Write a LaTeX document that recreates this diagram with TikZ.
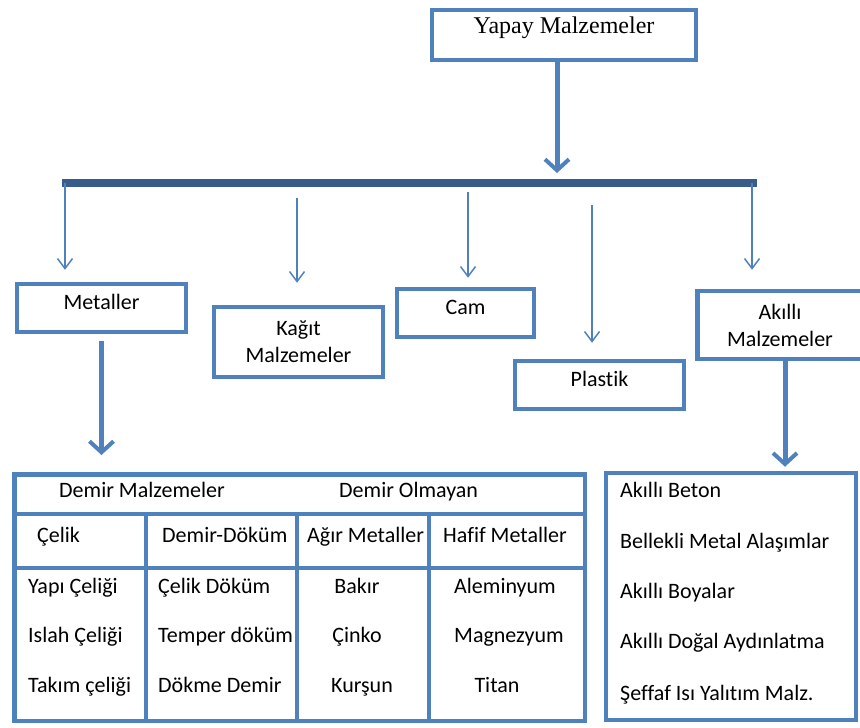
\documentclass[tikz,border=0pt]{standalone}
\usepackage{fontspec}
\setmainfont{Carlito}[Ligatures=NoCommon]
\newfontfamily\serifyazi{Liberation Serif}
\usetikzlibrary{arrows.meta}
\definecolor{kutumavi}{HTML}{4F81BD}
\definecolor{koyumavi}{HTML}{385D8A}

\tikzset{
	kutu/.style={draw=kutumavi, line width=4.5pt, inner sep=0pt, font=\fontsize{22}{27}\selectfont},
	tekkutu/.style={kutu, text height=15pt, text depth=13pt},
	cokkutu/.style={kutu, align=center},
	hucre/.style={inner sep=0pt, text height=15pt, text depth=5pt, font=\fontsize{22}{27}\selectfont},
	ince/.style={draw=kutumavi, line width=1.5pt, -{Straight Barb[length=10pt,width=15pt]}},
	kalin/.style={draw=kutumavi, line width=5pt, -{Straight Barb[length=11pt,width=24pt,line width=4pt]}},
	cizgi/.style={draw=kutumavi, line width=4.5pt}
}

\begin{document}
\begin{tikzpicture}[x=1pt, y=-1pt]
	\useasboundingbox (0,0) rectangle (860,728);
	% kutular
	\node[tekkutu, minimum width=264pt, minimum height=50pt, font=\serifyazi\fontsize{24}{29}\selectfont, text depth=17pt] (yapay) at (564,35) {Yapay Malzemeler};
	\node[tekkutu, minimum width=169pt, minimum height=48pt] (metaller) at (101.5,308) {Metaller};
	\node[cokkutu, minimum width=169pt, minimum height=70pt] (kagit) at (298.5,342) {Kağıt\\Malzemeler};
	\node[tekkutu, minimum width=137pt, minimum height=48pt] (cam) at (465.5,313) {Cam};
	\node[tekkutu, minimum width=169pt, minimum height=48pt] (plastik) at (599.5,385) {Plastik};
	\node[cokkutu, minimum width=165pt, minimum height=68pt] (akilli) at (780,325) {Akıllı\\Malzemeler};
	% ana cubuk
	\coordinate (cubukL) at (62,183);
	\coordinate (cubukR) at (757,183);
	\draw[draw=koyumavi, line width=8pt] (cubukL) -- (cubukR);
	\draw[kalin, shorten >=10pt] ([xshift=-7pt]yapay.south) -- ([xshift=-7pt]yapay.south |- cubukL);
	% ince oklar
	\coordinate (o1) at (65,183);
	\coordinate (o2) at (297,198);
	\coordinate (o3) at (468,192);
	\coordinate (o4) at (592,205);
	\coordinate (o5) at (752,183);
	\draw[ince, shorten >=12pt] (o1) -- (o1 |- metaller.north);
	\draw[ince, shorten >=22pt] (o2) -- (o2 |- kagit.north);
	\draw[ince, shorten >=9pt] (o3) -- (o3 |- cam.north);
	\draw[ince, shorten >=16pt] (o4) -- (o4 |- plastik.north);
	\draw[ince, shorten >=19pt] (o5) -- (o5 |- akilli.north);
	% metaller tablosu
	\node[draw=kutumavi, line width=4.5pt, minimum width=570.5pt, minimum height=246.5pt] (metaltab) at (299.5,597.5) {};
	\draw[cizgi] (metaltab.west |- 0,514) -- (metaltab.east |- 0,514);
	\draw[cizgi] (metaltab.west |- 0,568) -- (metaltab.east |- 0,568);
	\foreach \x in {146,297,429}
		\draw[cizgi] (\x,514) -- (\x,722);
	\foreach \ad/\x/\y/\yazi in {dm/59/492/Demir Malzemeler, do/339/492/Demir Olmayan,
		celik/37/537/Çelik, dd/162/537/Demir-Döküm, agir/307/537/Ağır Metaller, hafif/443/537/Hafif Metaller,
		a1/28/588/Yapı Çeliği, a2/28/637/Islah Çeliği, a3/28/687/Takım çeliği,
		b1/158/588/Çelik Döküm, b2/158/637/Temper döküm, b3/158/687/Dökme Demir}
		\node[hucre, anchor=west] (\ad) at (\x,\y) {\yazi};
	\foreach \ad/\x/\y/\yazi in {c1/357/588/Bakır, c2/357/637/Çinko, c3/362/687/Kurşun,
		d1/505/588/Aleminyum, d2/509/637/Magnezyum, d3/497/687/Titan}
		\node[hucre] (\ad) at (\x,\y) {\yazi};
	\draw[kalin, shorten <=7pt, shorten >=17pt] (metaller.south) -- (metaller.south |- metaltab.north);
	% akilli malzemeler
	\node[draw=kutumavi, line width=4.5pt, minimum width=250pt, minimum height=247pt] (akillitab) at (731,596.5) {};
	\foreach \ad/\y/\yazi in {e1/492/Akıllı Beton, e2/543/Bellekli Metal Alaşımlar, e3/593/Akıllı Boyalar,
		e4/643/Akıllı Doğal Aydınlatma, e5/695/Şeffaf Isı Yalıtım Malz.}
		\node[hucre, anchor=west] (\ad) at (620,\y) {\yazi};
	\draw[kalin, shorten >=4pt] ([xshift=5pt]akilli.south) -- ([xshift=5pt]akilli.south |- akillitab.north);
\end{tikzpicture}
\end{document}
